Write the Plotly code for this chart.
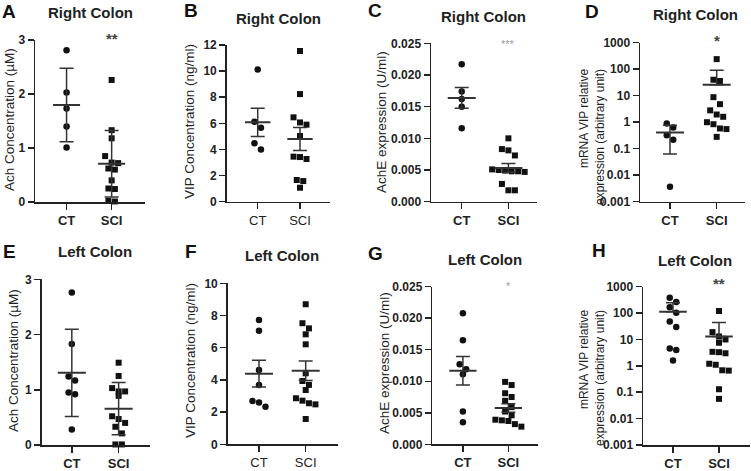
import numpy as np
import plotly.graph_objects as go

W, H = 751, 471
FONT = "Liberation Sans, Arial, sans-serif"

groups = ["CT", "SCI"]

# ---- data ----
a_ct = [2.81, 2.03, 1.73, 1.40, 1.01]
a_sci = [2.26, 1.33, 1.18, 0.85, 0.73, 0.72, 0.62, 0.60, 0.40, 0.25, 0.24, 0.02, 0.01]
b_ct = [10.13, 6.13, 5.67, 4.47, 4.00]
b_sci = [11.54, 8.24, 6.46, 6.07, 5.90, 5.03, 3.45, 3.42, 3.27, 1.66, 1.58, 1.07]
c_ct = [0.0217, 0.0174, 0.0162, 0.0150, 0.0116]
c_sci = [0.0100, 0.0083, 0.0081, 0.0073, 0.0051, 0.0050, 0.0049, 0.0048, 0.0048,
         0.0047, 0.0028, 0.0018, 0.0018]
d_ct = [0.89, 0.63, 0.32, 0.22, 0.0037]
d_sci = [240, 40, 36, 8.8, 4.8, 2.8, 1.95, 1.6, 1.0, 0.84, 0.58, 0.55, 0.28]
e_ct = [2.76, 1.83, 1.24, 1.17, 0.95, 0.92, 0.28]
e_sci = [1.49, 1.25, 1.03, 0.97, 0.97, 0.89, 0.52, 0.47, 0.40, 0.33, 0.21, 0.01, 0.01]
f_ct = [7.72, 7.06, 4.62, 3.69, 2.69, 2.59, 2.34]
f_sci = [8.70, 7.52, 7.20, 6.83, 6.21, 4.41, 3.93, 3.69, 3.37, 2.86, 2.71, 2.55, 2.48, 1.57]
g_ct = [0.0208, 0.0165, 0.0127, 0.0119, 0.0111, 0.0052, 0.0035]
g_sci = [0.0099, 0.0094, 0.0081, 0.0075, 0.0069, 0.0059, 0.0052, 0.0046, 0.0039,
         0.0038, 0.0037, 0.0032, 0.0028]
h_ct = [380, 262, 168, 103, 48, 30, 4.5, 4.0, 1.6]
h_sci = [120, 19, 13, 10, 7.5, 3.4, 3.3, 3.0, 1.2, 1.1, 0.68, 0.66, 0.13, 0.056]

lin_ticks_3 = [0, 1, 2, 3]
lin_ticks_12 = [0, 2, 4, 6, 8, 10, 12]
lin_ticks_10 = [0, 2, 4, 6, 8, 10]
ache_ticks = [0, 0.005, 0.010, 0.015, 0.020, 0.025]
ache_labels = ["0.000", "0.005", "0.010", "0.015", "0.020", "0.025"]
log_ticks = [0.001, 0.01, 0.1, 1, 10, 100, 1000]
log_labels = ["0.001", "0.01", "0.1", "1", "10", "100", "1000"]

panels = [
    dict(letter="A", title="Right Colon", ytitle="Ach Concentration (µM)",
         ct=a_ct, sci=a_sci, err="sd", log=False, yr=[0, 3], tv=lin_ticks_3, tt=None,
         xd=(35, 145), yd=(40, 202), xr=(-0.70, 1.74), catbold=True,
         let_xy=(9, 12), tit_xy=(90, 13), yt_xy=(10, 120), star="**", star_xy=(112, 39),
         star_style="dark"),
    dict(letter="B", title="Right Colon", ytitle="VIP Concentration (ng/ml)",
         ct=b_ct, sci=b_sci, err="sem", log=False, yr=[0, 12], tv=lin_ticks_12, tt=None,
         xd=(226.7, 330), yd=(45, 201.7), xr=(-0.733, 1.709), catbold=False,
         let_xy=(191, 11), tit_xy=(278, 19), yt_xy=(190, 122), star=None),
    dict(letter="C", title="Right Colon", ytitle="AchE expression (U/ml)",
         ct=c_ct, sci=c_sci, err="sem", log=False, yr=[0, 0.025], tv=ache_ticks, tt=ache_labels,
         xd=(431, 536.7), yd=(43.3, 201.7), xr=(-0.658, 1.606), catbold=True,
         let_xy=(375, 11), tit_xy=(483, 17), yt_xy=(382, 122), star="***", star_xy=(508, 44),
         star_style="light"),
    dict(letter="D", title="Right Colon", ytitle="mRNA VIP relative<br>expression (arbitrary unit)",
         ct=d_ct, sci=d_sci, err="sd", log=True, yr=[-3, 3], tv=log_ticks, tt=log_labels,
         xd=(640, 745), yd=(42.7, 201.7), xr=(-0.642, 1.606), catbold=True,
         let_xy=(592, 12), tit_xy=(695, 15), yt_xy=(592, 137), star="*", star_xy=(717, 41),
         star_style="dark"),
    dict(letter="E", title="Left Colon", ytitle="Ach Concentration (µM)",
         ct=e_ct, sci=e_sci, err="sd", log=False, yr=[0, 3], tv=lin_ticks_3, tt=None,
         xd=(41.7, 150), yd=(279.3, 445), xr=(-0.643, 1.67), catbold=True,
         let_xy=(9, 251), tit_xy=(95, 251), yt_xy=(13, 361), star=None),
    dict(letter="F", title="Left Colon", ytitle="VIP Concentration (ng/ml)",
         ct=f_ct, sci=f_sci, err="sem", log=False, yr=[0, 10], tv=lin_ticks_10, tt=None,
         xd=(227.7, 338.3), yd=(283.3, 444.3), xr=(-0.67, 1.698), catbold=False,
         let_xy=(191, 251), tit_xy=(282, 255), yt_xy=(190, 361), star=None),
    dict(letter="G", title="Left Colon", ytitle="AchE expression (U/ml)",
         ct=g_ct, sci=g_sci, err="sem", log=False, yr=[0, 0.025], tv=ache_ticks, tt=ache_labels,
         xd=(432.3, 538.3), yd=(286.7, 444.3), xr=(-0.673, 1.658), catbold=True,
         let_xy=(375, 253), tit_xy=(485, 259), yt_xy=(384, 363), star="*", star_xy=(508, 286),
         star_style="light"),
    dict(letter="H", title="Left Colon", ytitle="mRNA VIP relative<br>expression (arbitrary unit)",
         ct=h_ct, sci=h_sci, err="sd", log=True, yr=[-3, 3], tv=log_ticks, tt=log_labels,
         xd=(643, 750), yd=(286.7, 445), xr=(-0.652, 1.674), catbold=True,
         let_xy=(599, 250), tit_xy=(695, 260), yt_xy=(592, 378), star="**", star_xy=(719, 283),
         star_style="dark"),
]

MARK = 6.5       # marker diameter px
ROW_T = 7.5      # px, points closer than this share a row
SPACING = 6.5    # px between points in a row
MEAN_HW = 0.30   # half width of mean line (x units)
CAP_HW = 7       # px half width of error caps
LINE_C = "#333333"
AX_C = "#222222"


def swarm_offsets(vals, y_ppu, x_ppu, logy):
    v = np.asarray(vals, float)
    yp = (np.log10(v) if logy else v) * y_ppu
    order = np.argsort(-yp, kind="stable")
    rows, cur, start = [], [], None
    for idx in order:
        if start is None or start - yp[idx] > ROW_T:
            if cur:
                rows.append(cur)
            cur, start = [idx], yp[idx]
        else:
            cur.append(idx)
    if cur:
        rows.append(cur)
    offs = np.zeros(len(v))
    for r in rows:
        k = len(r)
        for j, idx in enumerate(r):
            offs[idx] = (j - (k - 1) / 2) * SPACING / x_ppu
    return offs


fig = go.Figure()
annotations = []


def px2fx(x):
    return x / W


def px2fy(y):
    return 1 - y / H


for i, p in enumerate(panels, start=1):
    xa, ya = f"x{i}", f"y{i}"
    x0, x1 = p["xd"]
    yt, yb = p["yd"]
    x_ppu = (x1 - x0) / (p["xr"][1] - p["xr"][0])
    y_ppu = (yb - yt) / (p["yr"][1] - p["yr"][0])

    for gi, (gname, vals) in enumerate(zip(groups, [p["ct"], p["sci"]])):
        v = np.asarray(vals, float)
        offs = swarm_offsets(v, y_ppu, x_ppu, p["log"])
        fig.add_trace(go.Scatter(
            x=gi + offs, y=v, mode="markers", xaxis=xa, yaxis=ya,
            marker=dict(symbol="circle" if gi == 0 else "square",
                        size=MARK if gi == 0 else MARK - 0.5, color="#111111",
                        line=dict(width=0)),
            cliponaxis=False, hoverinfo="y", name=gname))
        m = v.mean()
        sd = v.std(ddof=1)
        e = sd if p["err"] == "sd" else sd / np.sqrt(len(v))
        em = e
        if p["log"] and m - e <= 0:
            em = 0.0
        fig.add_trace(go.Scatter(
            x=[gi], y=[m], mode="markers", xaxis=xa, yaxis=ya,
            marker=dict(size=1, color="rgba(0,0,0,0)"),
            error_y=dict(type="data", symmetric=False, array=[e], arrayminus=[em],
                         color=LINE_C, thickness=1.5, width=CAP_HW),
            cliponaxis=False, hoverinfo="skip"))
        fig.add_trace(go.Scatter(
            x=[gi - MEAN_HW, gi + MEAN_HW], y=[m, m], mode="lines", xaxis=xa, yaxis=ya,
            line=dict(color=LINE_C, width=2), cliponaxis=False, hoverinfo="skip"))

    tickfont = dict(family=FONT, size=12, color="#222222", weight="bold")
    catfont = dict(family=FONT, size=13, color="#222222",
                   weight="bold" if p["catbold"] else "normal")
    xkey = "xaxis" if i == 1 else f"xaxis{i}"
    ykey = "yaxis" if i == 1 else f"yaxis{i}"
    yaxis = dict(domain=[px2fy(yb), px2fy(yt)], anchor=xa, range=p["yr"], automargin=False,
                 showgrid=False, zeroline=False, showline=True, linecolor=AX_C, linewidth=1.5,
                 ticks="outside", ticklen=6, tickwidth=1.5, tickcolor=AX_C,
                 tickvals=p["tv"], tickfont=tickfont, fixedrange=True)
    if p["tt"] is not None:
        yaxis["ticktext"] = p["tt"]
    if p["log"]:
        yaxis["type"] = "log"
    fig.update_layout(**{
        xkey: dict(domain=[px2fx(x0), px2fx(x1)], anchor=ya, range=list(p["xr"]), automargin=False,
                   showgrid=False, zeroline=False, showline=True, linecolor=AX_C, linewidth=1.5,
                   ticks="outside", ticklen=6, tickwidth=1.5, tickcolor=AX_C,
                   tickvals=[0, 1], ticktext=groups, tickfont=catfont, fixedrange=True),
        ykey: yaxis,
    })

    lx, ly = p["let_xy"]
    annotations.append(dict(text=p["letter"], x=px2fx(lx), y=px2fy(ly), xref="paper", yref="paper",
                            showarrow=False, xanchor="center", yanchor="middle",
                            font=dict(family=FONT, size=19, color="#111111", weight="bold")))
    tx, ty = p["tit_xy"]
    annotations.append(dict(text=p["title"], x=px2fx(tx), y=px2fy(ty), xref="paper", yref="paper",
                            showarrow=False, xanchor="center", yanchor="middle",
                            font=dict(family=FONT, size=15, color="#222222", weight="bold")))
    yx, yy = p["yt_xy"]
    two = "<br>" in p["ytitle"]
    annotations.append(dict(text=p["ytitle"], x=px2fx(yx), y=px2fy(yy), xref="paper", yref="paper",
                            showarrow=False, xanchor="center", yanchor="middle", textangle=-90,
                            align="right" if two else "center",
                            font=dict(family=FONT, size=12 if two else 13.5, color="#222222")))
    if p.get("star"):
        sx, sy = p["star_xy"]
        dark = p["star_style"] == "dark"
        annotations.append(dict(text=p["star"], x=px2fx(sx), y=px2fy(sy), xref="paper", yref="paper",
                                showarrow=False, xanchor="center", yanchor="middle",
                                font=dict(family=FONT, size=15 if dark else 11,
                                          color="#444444" if dark else "#9a9a9a",
                                          weight="bold" if dark else "normal")))

fig.update_layout(template="none", width=W, height=H, margin=dict(l=0, r=0, t=0, b=0, pad=0),
                  paper_bgcolor="white", plot_bgcolor="white", showlegend=False,
                  annotations=annotations, font=dict(family=FONT))

fig.write_html("out.html", config={"displayModeBar": False, "staticPlot": True},
               post_script="document.body.style.margin='0';document.body.style.padding='0';"
                           "document.body.style.overflow='hidden';")
